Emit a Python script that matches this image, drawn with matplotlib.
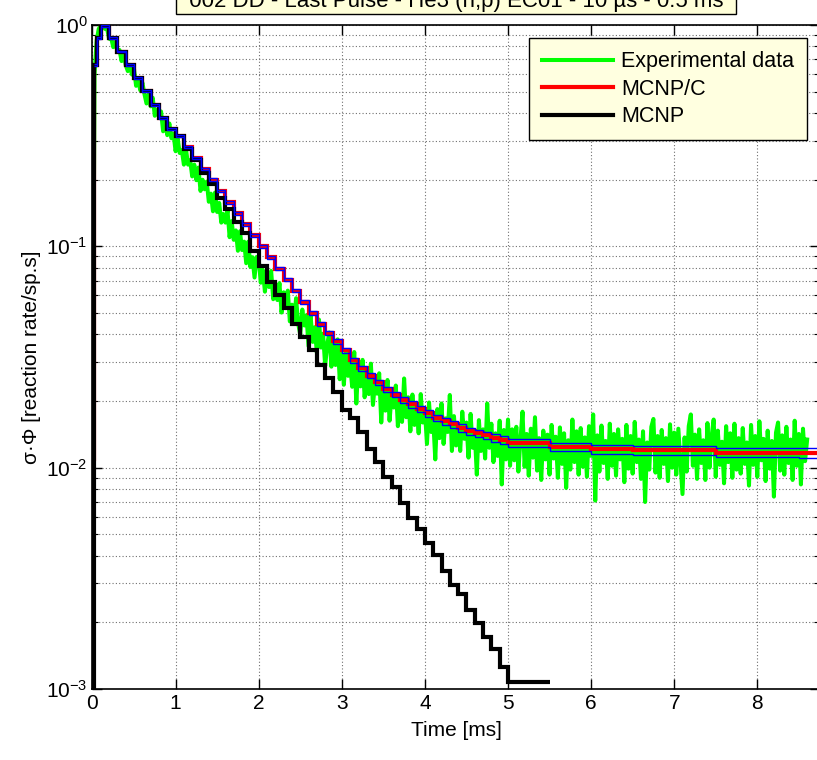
import numpy as np
import matplotlib.pyplot as plt
from matplotlib.ticker import LogLocator, NullFormatter, LogFormatterMathtext

plt.rcParams['font.family'] = ['Liberation Sans', 'DejaVu Sans']
plt.rcParams['mathtext.fontset'] = 'custom'
plt.rcParams['mathtext.rm'] = 'Liberation Sans'
plt.rcParams['mathtext.it'] = 'Liberation Sans:italic'

# MCNP tally time bins [ms]
bin_edges = np.concatenate([[0, 0.02, 0.05], np.round(np.arange(0.1, 5.01, 0.1), 2),
                            np.arange(5.5, 9.01, 0.5)])

# MCNP/C reaction rate per bin
mcnpc_rate = [0.011, 0.66, 0.87, 0.99, 0.87, 0.759, 0.661, 0.575, 0.501, 0.437,
              0.380, 0.339, 0.316, 0.282, 0.251, 0.224, 0.200, 0.178, 0.158, 0.141,
              0.126, 0.112, 0.100, 0.0891, 0.0794, 0.0708, 0.0631, 0.0562, 0.0501, 0.0447,
              0.0407, 0.0372, 0.0339, 0.0305, 0.0282, 0.0260, 0.0243, 0.0226, 0.0214, 0.0202,
              0.0193, 0.0184, 0.0176, 0.0168, 0.0162, 0.0157, 0.0151, 0.0146, 0.0143, 0.0140,
              0.0136, 0.0133, 0.0129, 0.0124, 0.0121, 0.0120, 0.0120, 0.0117, 0.0117, 0.0117]

# relative statistical error of MCNP/C (blue band)
mcnpc_err = [0.01, 0.01, 0.01, 0.01, 0.01, 0.01, 0.01, 0.01, 0.01, 0.01,
             0.01, 0.01, 0.01, 0.012, 0.012, 0.013, 0.013, 0.014, 0.014, 0.015,
             0.015, 0.016, 0.016, 0.017, 0.018, 0.018, 0.019, 0.02, 0.02, 0.021,
             0.022, 0.023, 0.024, 0.025, 0.026, 0.027, 0.028, 0.029, 0.03, 0.031,
             0.032, 0.033, 0.034, 0.035, 0.036, 0.037, 0.038, 0.039, 0.04, 0.04,
             0.041, 0.042, 0.042, 0.043, 0.044, 0.045, 0.046, 0.047, 0.048, 0.05]

# MCNP (no correction) reaction rate per bin, ends at 5.5 ms
mcnp_rate = [1e-4, 0.66, 0.87, 0.99, 0.87, 0.759, 0.661, 0.575, 0.501, 0.437,
             0.380, 0.339, 0.316, 0.275, 0.245, 0.214, 0.191, 0.166, 0.148, 0.129,
             0.115, 0.0955, 0.0813, 0.0692, 0.0603, 0.0525, 0.0447, 0.0391, 0.0340, 0.0291,
             0.0254, 0.0220, 0.0182, 0.0167, 0.0145, 0.0122, 0.01057, 0.00904, 0.00820, 0.00693,
             0.00590, 0.00526, 0.00455, 0.00403, 0.00341, 0.00294, 0.00270, 0.00228, 0.00199,
             0.00172, 0.00152, 0.00126, 0.00108]

# experimental data [x1e-3], 0.025 ms sampling
exp_rate_e3 = [
    11, 600, 850, 960, 995, 990, 960, 966, 867, 873,
    794, 838, 767, 771, 687, 741, 659, 619, 661, 597,
    631, 531, 565, 507, 550, 488, 442, 485, 429, 469,
    389, 413, 386, 407, 331, 367, 318, 359, 308, 323,
    269, 307, 264, 272, 234, 275, 234, 245, 207, 234,
    199, 227, 178, 200, 181, 196, 159, 173, 144, 175,
    143, 157, 128, 140, 128, 145, 110, 130, 107, 118,
    95.5, 117, 96.2, 105, 83.9, 105, 80.7, 89.3, 72.3, 89.5,
    87.9, 68.5, 78.2, 62.4, 76.6, 65.5, 77.4, 57.7, 65.3, 57.2,
    68.2, 50.2, 62.0, 54.1, 63.1, 45.8, 54.5, 45.6, 58.3, 44.8,
    40.0, 51.8, 43.9, 48.8, 35.4, 48.5, 37.0, 43.1, 33.1, 46.7,
    34.9, 40.3, 28.8, 36.1, 40.8, 28.6, 36.6, 29.1, 38.0, 25.1,
    32.7, 23.7, 33.8, 26.0, 29.6, 23.2, 33.3, 19.5, 29.7, 23.3,
    30.7, 20.8, 26.9, 21.5, 29.5, 19.2, 24.3, 21.6, 26.7, 16.0,
    23.8, 18.1, 24.9, 16.3, 21.5, 18.7, 23.5, 15.4, 21.1, 16.1,
    25.3, 16.9, 20.8, 14.6, 21.4, 15.6, 18.8, 14.3, 21.5, 16.0,
    18.2, 12.8, 19.7, 14.5, 16.6, 10.9, 18.4, 13.6, 19.5, 12.8,
    16.7, 14.5, 21.3, 11.9, 17.1, 12.6, 15.8, 11.9, 17.9, 13.5,
    16.0, 11.1, 17.5, 12.3, 14.4, 9.3, 16.4, 11.9, 14.9, 11.0,
    19.5, 12.3, 15.8, 10.6, 14.3, 11.3, 16.3, 8.4, 14.8, 10.9,
    16.5,
    10.2, 14.9, 10.8, 15.3, 9.6, 13.4, 17.9, 10.1, 14.2, 9.2,
    15.0, 11.1, 16.9, 9.7, 13.6, 8.8, 14.7, 10.9, 14.1, 9.3,
    15.6, 11.0, 13.8, 9.0, 15.2, 10.4, 14.3, 8.1, 13.3, 9.8,
    16.5, 10.6, 14.6, 9.3, 15.1, 10.1, 13.7, 9.1, 15.4, 11.3,
    17.4, 7.1, 14.0, 9.6, 15.5, 10.5, 13.2, 8.9, 15.8, 10.2,
    14.2, 9.2, 14.9, 10.9, 13.5, 8.6, 15.6, 9.9, 13.9, 9.4,
    16.1, 10.6, 13.4, 8.9, 14.6, 7.0, 13.0, 9.8, 15.3, 16.6,
    9.5, 13.9, 9.0, 14.8, 10.4, 13.6, 8.7, 15.7, 10.0, 14.4,
    9.3, 15.0, 10.7, 7.6, 13.7, 9.6, 15.4, 17.4, 10.2, 14.1,
    8.9, 14.9, 10.5, 13.3, 8.8, 15.9, 10.0, 13.8, 16.5, 9.1,
    14.7, 10.3, 13.1, 8.5, 15.4, 10.6, 14.3, 9.0, 15.8, 9.8,
    13.6, 9.4, 15.1, 10.4, 13.0, 8.3, 15.6, 10.3, 13.9, 9.1,
    16.2, 10.8, 13.5, 8.7, 14.7, 9.9, 13.2, 7.4, 14.4, 16.0,
    9.7, 14.0, 9.3, 15.3, 10.5, 13.4, 8.8, 16.3, 10.2, 14.2,
    8.4, 15.0, 10.7, 13.4]

title_text = '  002 DD - Last Pulse - He3 (n,p) EC01 - 10 \u00b5s - 0.5 ms  '

exp_t = 0.025 * np.arange(len(exp_rate_e3))
exp_rate = np.array(exp_rate_e3) * 1e-3

fig = plt.figure(figsize=(8.17, 7.60), dpi=100)
ax = fig.add_axes([0.1132, 0.0934, 0.8900, 0.8737])

ax.plot(exp_t, exp_rate, color=(0, 1, 0), lw=2.9, label='Experimental data', zorder=2)
rc = np.array(mcnpc_rate)
err = np.array(mcnpc_err)
ax.stairs(rc, bin_edges, baseline=None, color='red', lw=3, label='MCNP/C', zorder=3)
ax.stairs(mcnp_rate, bin_edges[:len(mcnp_rate) + 1], baseline=None, color='black', lw=3,
          label='MCNP', zorder=4)
ax.stairs((rc * (1 + err))[1:], bin_edges[1:], baseline=None, color='blue', lw=1, zorder=5)
ax.stairs((rc * (1 - err))[1:], bin_edges[1:], baseline=None, color='blue', lw=1, zorder=5)

ax.set_yscale('log')
ax.set_ylim(1e-3, 1)
ax.set_xlim(0, 8.75)
ax.set_xticks(range(0, 9))
ax.yaxis.set_major_locator(LogLocator(base=10, numticks=10))
ax.yaxis.set_minor_locator(LogLocator(base=10, subs=np.arange(2, 10), numticks=10))
ax.yaxis.set_minor_formatter(NullFormatter())
ax.yaxis.set_major_formatter(LogFormatterMathtext())

ax.tick_params(which='both', direction='in', top=True, right=True, labelsize=15)
ax.tick_params(which='major', length=7, width=1)
ax.tick_params(which='minor', length=4, width=0.8)
ax.grid(True, which='major', axis='x', color='#707070', ls=(0, (1, 2)), lw=0.8)
ax.grid(True, which='both', axis='y', color='#707070', ls=(0, (1, 2)), lw=0.8)
for s in ax.spines.values():
    s.set_linewidth(1.2)

ax.set_xlabel('Time [ms]', fontsize=15, labelpad=6)
ax.set_ylabel('\u03c3\u00b7\u03a6 [reaction rate/sp.s]', fontsize=15, labelpad=4)

fig.text(456 / 817, 1 - 7.5 / 760, title_text, fontsize=16, ha='center', va='baseline',
         bbox=dict(boxstyle='square,pad=0.05', facecolor=(1, 1, 0.85), edgecolor='black', lw=1))

leg = ax.legend(loc='upper right', bbox_to_anchor=(0.983, 0.980), borderaxespad=0,
                fontsize=15.5, fancybox=False, framealpha=1, handlelength=3.3,
                handletextpad=0.4, labelspacing=0.3, borderpad=0.6)
leg.get_frame().set_facecolor((1, 1, 0.88))
leg.get_frame().set_edgecolor('black')
leg.get_frame().set_linewidth(1)

fig.savefig('out.png', dpi=100)
